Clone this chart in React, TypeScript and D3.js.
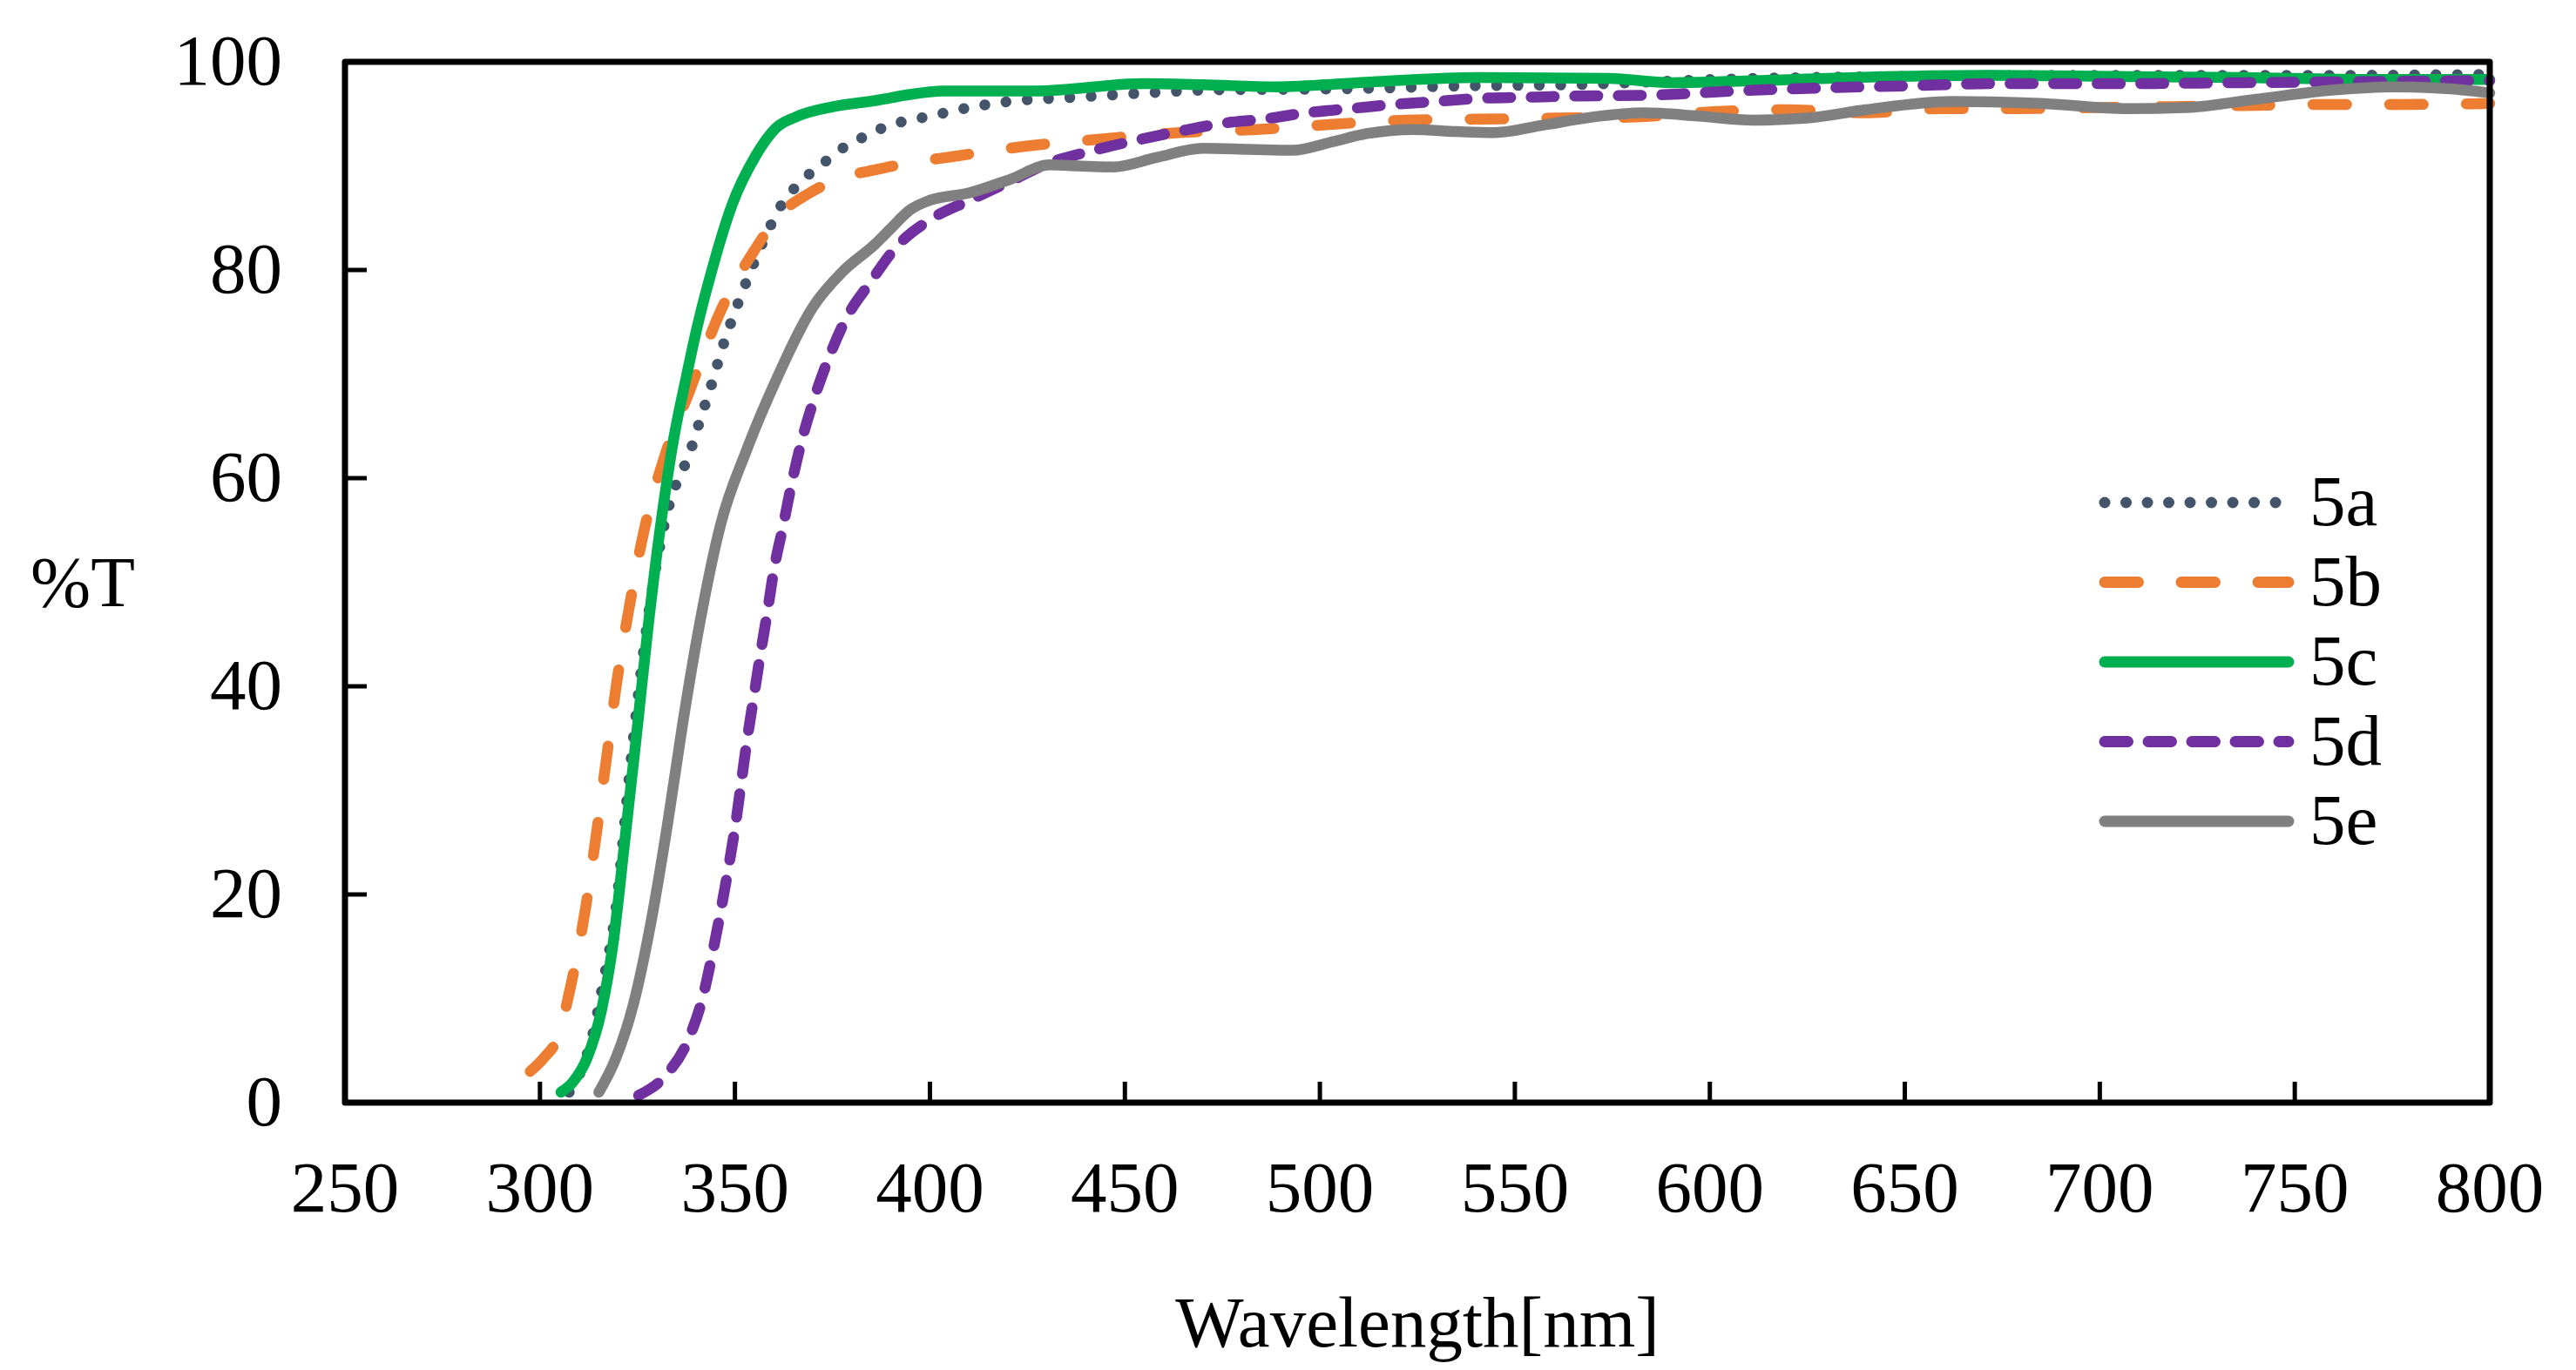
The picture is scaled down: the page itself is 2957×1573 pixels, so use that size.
import * as d3 from "d3";
import React from "react";

const W = 2957;
const H = 1573;
const m = { left: 396, right: 2858, top: 71, bottom: 1266 };

// tick labels
const xTicks = [250, 300, 350, 400, 450, 500, 550, 600, 650, 700, 750, 800];
const yTicks = [0, 20, 40, 60, 80, 100];

// [wavelength nm, %T]
const series5a: [number, number][] = [
  [307.5, 1], [311, 3.5], [313.5, 6.5], [316.2, 11.5], [319.5, 18.7], [322.5, 29.9],
  [325, 38.5], [327.5, 46], [330, 52], [332.5, 56.5], [335, 59.5], [338, 62],
  [341, 65.5], [344, 69], [347, 72.8], [350.6, 76.6], [354.8, 80.6], [359.3, 84.4],
  [362, 86.3], [365.6, 88], [369.3, 89.3], [373.8, 90.6], [378.4, 91.9], [383.1, 92.8],
  [388.2, 93.7], [393.5, 94.3], [399, 94.7], [410, 95.6], [420.5, 96.2], [437.5, 96.6],
  [455, 97], [472, 97.3], [506, 97.4], [540, 97.7], [565, 97.8], [600, 98.3],
  [650, 98.6], [700, 98.7], [750, 98.7], [800, 98.8],
];

const series5b: [number, number][] = [
  [297.5, 3], [301, 4.3], [304.6, 6.3], [308, 11.4], [311.7, 18.7], [314.5, 25.9],
  [317.1, 33.2], [319.7, 40.4], [322.9, 47.6], [326.6, 54.8], [331.8, 61.9], [338.5, 68.5],
  [345.9, 75.7], [355, 81.9], [362, 85.5], [368.7, 87.3], [377, 88.8], [386.8, 89.7],
  [395, 90.3], [405.9, 90.9], [424.7, 91.9], [444.4, 92.6], [464, 93.2], [483.7, 93.5],
  [503.3, 94], [522, 94.4], [541.8, 94.5], [560.5, 94.6], [581, 94.7], [600.8, 95.2],
  [619.7, 95.4], [639.5, 95.1], [659.3, 95.5], [679.1, 95.5], [698.9, 95.6], [718.7, 95.7],
  [736.8, 95.8], [756.6, 95.9], [776.4, 95.9], [800, 96],
];

const series5c: [number, number][] = [
  [305.4, 1], [308.5, 2], [312.1, 4.3], [315.8, 8.9], [318.8, 15.4], [321.8, 25.3],
  [324.7, 35.1], [327.7, 45.6], [330.7, 54.8], [334.4, 64], [337.4, 69.5], [340.3, 74.5],
  [344.1, 80], [349.3, 86.3], [355.2, 90.9], [360.4, 93.6], [365.6, 94.7], [375.3, 95.7],
  [386.4, 96.3], [393.8, 96.8], [403.4, 97.2], [427.3, 97.2], [454.6, 97.9], [470, 97.8],
  [488.8, 97.6], [514.5, 98.1], [540, 98.5], [574.3, 98.4], [590, 98], [613, 98.2],
  [637.8, 98.5], [670.8, 98.7], [703.7, 98.6], [736.8, 98.5], [769.8, 98.3], [800, 98.3],
];

const series5d: [number, number][] = [
  [325.3, 0.7], [332.2, 2.6], [338.1, 6.1], [341.8, 10.2], [344.1, 14.1], [346.3, 18.3],
  [348.3, 22.5], [350.1, 26.6], [351.6, 30.7], [353.1, 34.8], [354.8, 38.9], [356.5, 43],
  [358.3, 47.1], [360, 51.2], [362.3, 55.3], [364.5, 59.4], [367.2, 63.7], [370.2, 67.5],
  [373.9, 71.4], [378.6, 75.4], [384.5, 78.7], [391.6, 82.3], [399.9, 84.8], [410.2, 86.7],
  [420.5, 88.5], [430.7, 90.3], [441, 91.4], [454.6, 92.6], [464.9, 93.4], [475.2, 94.1],
  [485.5, 94.5], [496.5, 95.1], [507.6, 95.5], [518.8, 95.9], [529.9, 96.2], [541.8, 96.5],
  [553, 96.6], [564, 96.7], [585, 96.8], [606.6, 97.2], [629.6, 97.5], [651, 97.7],
  [672.4, 97.9], [703.7, 97.9], [736.8, 98], [769.8, 98.1], [800, 98.2],
];

const series5e: [number, number][] = [
  [315.1, 1], [319.5, 4.3], [324, 9.5], [328.5, 17.4], [332.9, 27.2], [336.6, 36.4],
  [341.1, 46.3], [346.3, 55.5], [353, 62.7], [360.4, 69.3], [370.1, 76.5], [377.5, 79.8],
  [386, 82.5], [390, 84], [395, 85.8], [400, 86.7], [410, 87.4], [420.5, 88.7],
  [430.7, 90.1], [438, 90], [447, 89.9], [458, 90.8], [470, 91.7], [482, 91.6],
  [493, 91.5], [503, 92.3], [512, 93.1], [524, 93.5], [535, 93.3], [545, 93.2],
  [557, 93.9], [570, 94.7], [583, 95.1], [597, 94.8], [611, 94.4], [625, 94.6],
  [640, 95.4], [662, 96.2], [685, 96], [707, 95.5], [722, 95.6], [740, 96.4],
  [760, 97.3], [775, 97.6], [790, 97.4], [800, 97],
];

const seriesNames = ["5a", "5b", "5c", "5d", "5e"];
const seriesColors = ["#44546A", "#ED7D31", "#00B050", "#7030A0", "#808080"];
const seriesDashes = ["0.01 24.5", "38.5 49.5", undefined, "26.5 23.5", undefined];
const seriesData = [series5a, series5b, series5c, series5d, series5e];

const font = "'Liberation Serif', 'Times New Roman', serif";
const fs = 83;
const lw = 12.5;

export default function App() {
  const x = d3.scaleLinear().domain([250, 800]).range([m.left, m.right]);
  const y = d3.scaleLinear().domain([0, 100]).range([m.bottom, m.top]);
  const line = d3.line<[number, number]>().x(d => x(d[0])).y(d => y(d[1])).curve(d3.curveMonotoneX);

  const legX0 = 2416, legX1 = 2627, legY0 = 577, legDy = 91.5;

  return (
    <svg width={W} height={H} viewBox={`0 0 ${W} ${H}`}
      style={{ position: "absolute", left: 0, top: 0, background: "#fff" }}
      fontFamily={font} fontSize={fs}>
      <rect x={0} y={0} width={W} height={H} fill="#fff" />

      {seriesData.map((d, i) => (
        <path key={seriesNames[i]} d={line(d) ?? undefined} fill="none" stroke={seriesColors[i]}
          strokeWidth={lw} strokeDasharray={seriesDashes[i]} strokeLinecap="round" strokeLinejoin="round" />
      ))}

      {/* frame */}
      <rect x={m.left} y={m.top} width={m.right - m.left} height={m.bottom - m.top}
        fill="none" stroke="#000" strokeWidth={7} strokeLinejoin="round" />

      {yTicks.map(t => (
        <g key={"y" + t}>
          <line x1={m.left} x2={m.left + 25} y1={y(t)} y2={y(t)} stroke="#000" strokeWidth={5} />
          <text x={324} y={y(t) + 26} textAnchor="end">{t}</text>
        </g>
      ))}
      {xTicks.map(t => (
        <g key={"x" + t}>
          <line x1={x(t)} x2={x(t)} y1={m.bottom} y2={m.bottom - 24} stroke="#000" strokeWidth={5} />
          <text x={x(t)} y={1391} textAnchor="middle">{t}</text>
        </g>
      ))}

      <text x={35} y={696}>%T</text>
      <text x={(m.left + m.right) / 2} y={1546} textAnchor="middle">Wavelength[nm]</text>

      {seriesNames.map((n, i) => (
        <g key={"leg" + n}>
          <line x1={legX0} x2={legX1} y1={legY0 + i * legDy} y2={legY0 + i * legDy}
            stroke={seriesColors[i]} strokeWidth={13} strokeDasharray={seriesDashes[i]} strokeLinecap="round" />
          <text x={2651} y={legY0 + i * legDy + 26}>{n}</text>
        </g>
      ))}
    </svg>
  );
}
